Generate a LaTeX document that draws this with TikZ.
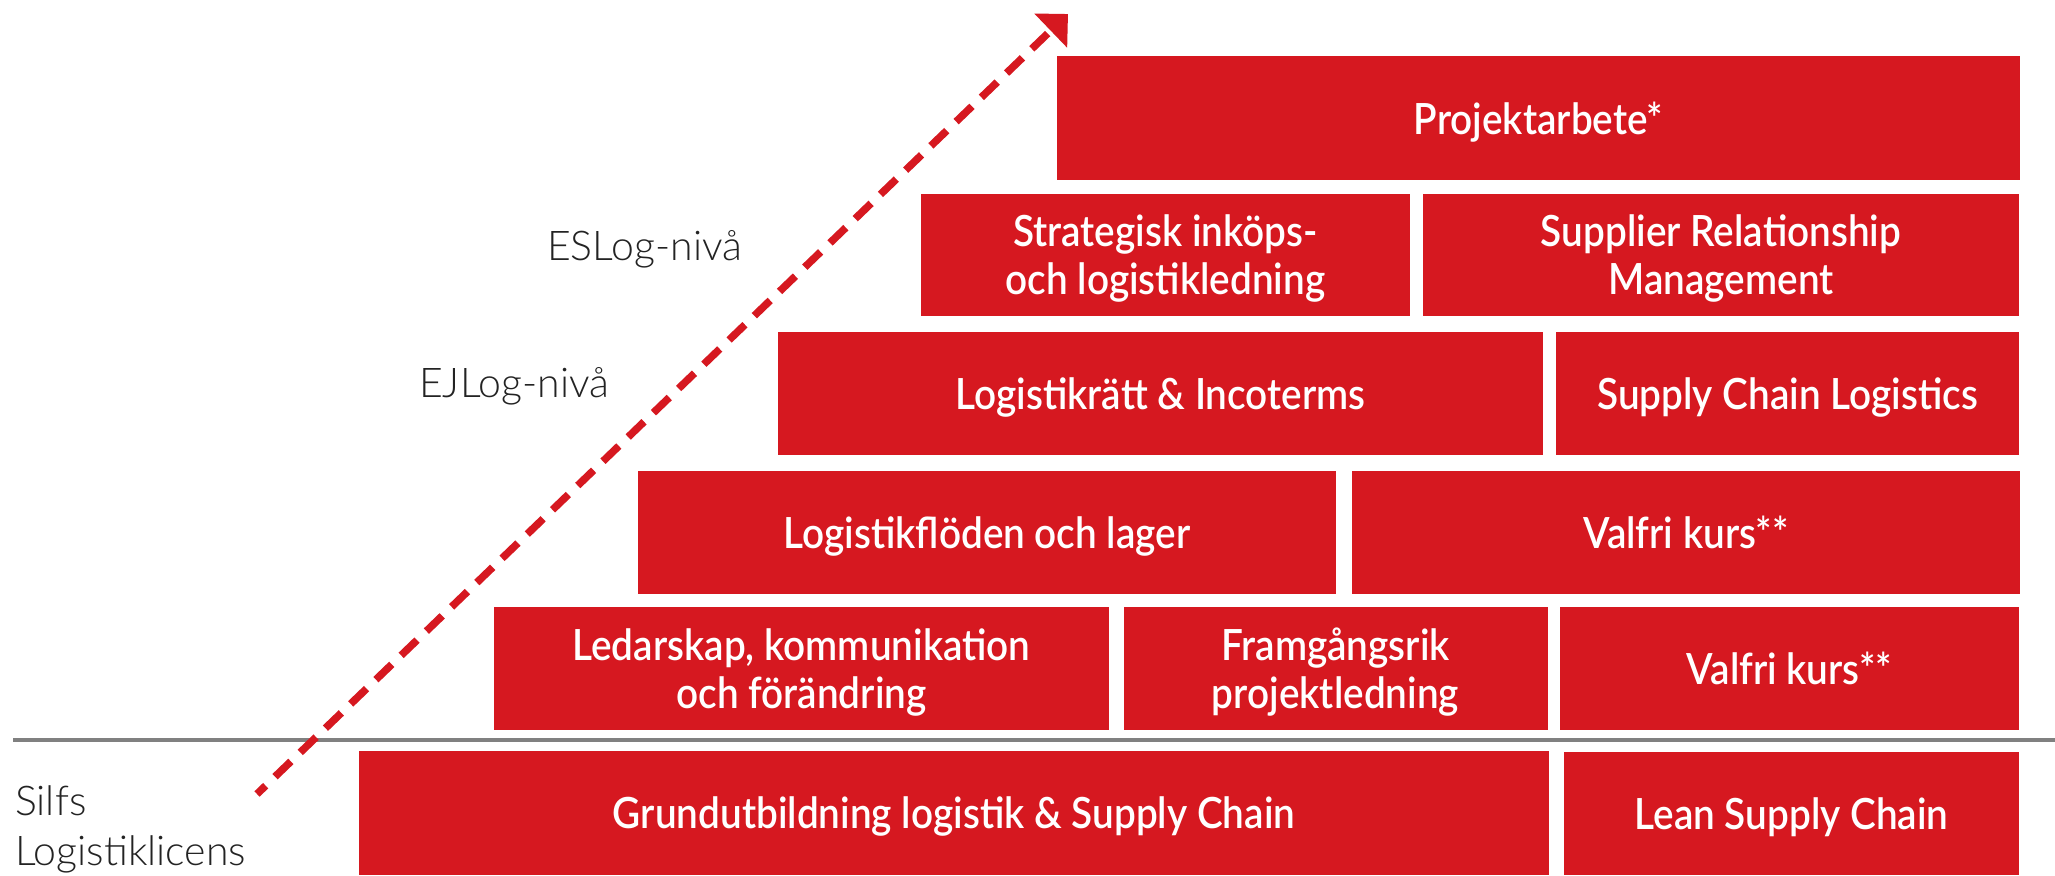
\documentclass[tikz,border=0pt]{standalone}
\usepackage{fontspec}
\usetikzlibrary{arrows.meta}
\setmainfont{Lato}
\newfontfamily\boxfont{Lato Semibold}[FakeStretch=0.90]
\newfontfamily\lightfont{Lato Light}
\definecolor{silfred}{RGB}{214,24,32}
\definecolor{rulegray}{RGB}{128,128,128}
\definecolor{labelgray}{RGB}{35,35,35}
\begin{document}
\begin{tikzpicture}[x=1pt,y=-1pt,
  cell/.style={fill=silfred, text=white, inner sep=0pt, align=center, text depth=0pt,
    font=\boxfont\fontsize{43}{48}\selectfont},
  lvl/.style={anchor=base west, inner sep=0pt, text=labelgray,
    font=\lightfont\fontsize{41}{46}\selectfont},
  divider/.style={draw=rulegray, line width=3.5pt},
  climb/.style={draw=silfred, line width=7.5pt, dash pattern=on 22pt off 13pt, dash phase=10pt,
    -{Triangle[length=24pt,width=46pt]}}]
\useasboundingbox (0,0) rectangle (2055,875);
\fill[white] (0,0) rectangle (2055,875);

% row A
\node[cell, minimum width=963pt, minimum height=124pt] (proj) at (1538.5,118) {Projektarbete*};
% row B
\node[cell, minimum width=489pt, minimum height=122pt] (strat) at (1165.5,255) {Strategisk inköps-\\och logistikledning};
\node[cell, minimum width=596pt, minimum height=122pt] (srm) at (1721,255) {Supplier Relationship\\Management};
% row C
\node[cell, minimum width=765pt, minimum height=123pt] (ratt) at (1160.5,393.5) {Logistikrätt \& Incoterms};
\node[cell, minimum width=463pt, minimum height=123pt] (scl) at (1787.5,393.5) {Supply Chain Logistics};
% row D
\node[cell, minimum width=698pt, minimum height=123pt] (flod) at (987,532.5) {Logistikflöden och lager};
\node[cell, minimum width=668pt, minimum height=123pt] (valA) at (1686,532.5) {Valfri kurs**};
% row E
\node[cell, minimum width=615pt, minimum height=123pt] (led) at (801.5,668.5) {Ledarskap, kommunikation\\och förändring};
\node[cell, minimum width=424pt, minimum height=123pt] (fram) at (1335.5,668.5) {Framgångsrik\\projektledning};
\node[cell, minimum width=459pt, minimum height=123pt] (valB) at (1789.5,668.5) {Valfri kurs**};
% row F
\node[cell, minimum width=1190pt, minimum height=124pt] (grund) at (954,813) {Grundutbildning logistik \& Supply Chain};
\node[cell, minimum width=455pt, minimum height=123pt] (lean) at (1791.5,813.5) {Lean Supply Chain};

% level labels
\node[lvl] (eslog) at (547,260) {ESLog-nivå};
\node[lvl] (ejlog) at (419,397) {EJLog-nivå};
\node[lvl] (silfs) at (15,815) {Silfs};
\node[lvl] (licens) at (15,865) {Logistiklicens};

% divider
\coordinate (ruleL) at (13,740);
\coordinate (ruleR) at (2055,740);
\draw[divider] (ruleL) -- (ruleR);

% rising dashed arrow
\coordinate (arrS) at (257,794);
\coordinate (arrE) at (1068,14);
\draw[climb] (arrS) -- (arrE);
\end{tikzpicture}
\end{document}
